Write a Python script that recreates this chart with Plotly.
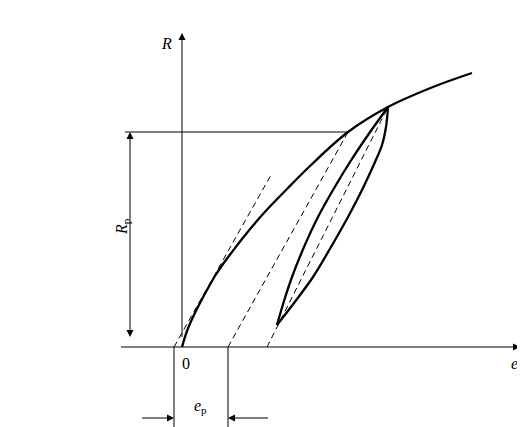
import plotly.graph_objects as go

# stress-strain sketch, units roughly = pixels, origin at curve start
curve_x = [0, 5, 11, 18, 25, 33, 41, 50, 60, 81, 105, 128, 166, 206, 251, 290]
curve_y = [0, 16, 30, 44, 57, 71, 83, 95, 108, 133, 158, 181, 215, 240, 260, 274]

# hysteresis loop: upper (left) and lower (right) branches
loop_left_x = [95, 102, 110, 122, 136, 151, 168, 186, 206]
loop_left_y = [22, 46, 70, 100, 130, 157, 185, 212, 240]
loop_right_x = [95, 112, 131, 149, 166, 180, 193, 200, 204, 206]
loop_right_y = [22, 44, 70, 100, 130, 157, 185, 202, 220, 240]

# dashed unloading / elastic lines
dash_lines = [
    ([-8, 89], [0, 172]),
    ([46, 166], [0, 215]),
    ([85, 206], [0, 240]),
]

rp = 215
ep_start = -8
ep_end = 46

fig = go.Figure()

fig.add_trace(go.Scatter(x=curve_x, y=curve_y, mode="lines",
                         line=dict(color="black", width=2.3, shape="spline")))
fig.add_trace(go.Scatter(x=loop_left_x, y=loop_left_y, mode="lines",
                         line=dict(color="black", width=2.3, shape="spline")))
fig.add_trace(go.Scatter(x=loop_right_x, y=loop_right_y, mode="lines",
                         line=dict(color="black", width=2.3, shape="spline")))

for dx, dy in dash_lines:
    fig.add_trace(go.Scatter(x=dx, y=dy, mode="lines",
                             line=dict(color="black", width=1, dash="6px,4px")))

# Rp horizontal guide
fig.add_trace(go.Scatter(x=[-57, curve_x[12]], y=[rp, rp], mode="lines",
                         line=dict(color="black", width=1)))
# e_p extension lines
for xe in [ep_start, ep_end]:
    fig.add_trace(go.Scatter(x=[xe, xe], y=[0, -80], mode="lines",
                             line=dict(color="black", width=1)))

arrow = dict(showarrow=True, arrowhead=2, arrowsize=1.4, arrowwidth=1,
             arrowcolor="black", axref="x", ayref="y", xref="x", yref="y",
             standoff=0, text=" ")

# axes
fig.add_annotation(x=338, y=0, ax=-64, ay=0, **arrow)
fig.add_annotation(x=0, y=314, ax=0, ay=0, **arrow)
# Rp dimension
fig.add_annotation(x=-52, y=rp, ax=-52, ay=0, arrowside="end+start", **arrow)
# e_p dimension arrows
fig.add_annotation(x=ep_start, y=-71, ax=-43, ay=-71, **arrow)
fig.add_annotation(x=ep_end, y=-71, ax=89, ay=-71, **arrow)

font = dict(family="Liberation Serif, DejaVu Serif, serif", size=16, color="black")
fig.add_annotation(x=-16, y=304, text="<i>R</i>", showarrow=False, font=font)
fig.add_annotation(x=4, y=-16, text="0", showarrow=False, font=font)
fig.add_annotation(x=332, y=-16, text="<i>e</i>", showarrow=False, font=font)
fig.add_annotation(x=18, y=-59, text="<i>e</i><sub>p</sub>", showarrow=False, font=font)
fig.add_annotation(x=-60, y=120, text="<i>R</i><sub>p</sub>", showarrow=False,
                   font=font, textangle=-90)

# page has an 8px body margin, so the plot is shrunk and ranges offset to match
fig.update_layout(
    width=517, height=419,
    margin=dict(l=0, r=0, t=0, b=0),
    showlegend=False,
    plot_bgcolor="white", paper_bgcolor="white",
    xaxis=dict(range=[-174, 343], visible=False, fixedrange=True),
    yaxis=dict(range=[-80, 339], visible=False, fixedrange=True),
)

fig.write_html("out.html")
